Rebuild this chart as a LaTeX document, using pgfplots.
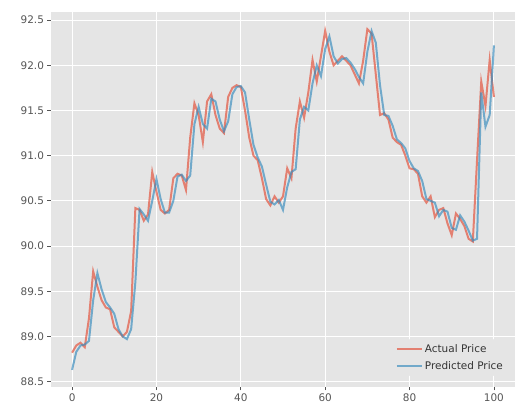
\documentclass[border=0pt]{standalone}
\usepackage{pgfplots}
\pgfplotsset{compat=1.18}
\usepackage{pgfplotstable}
\usepackage{fontspec}
\setmainfont{DejaVu Sans}
\definecolor{bgc}{HTML}{E5E5E5}
\definecolor{redc}{HTML}{E24A33}
\definecolor{bluec}{HTML}{348ABD}
\definecolor{tickc}{HTML}{555555}
\pgfplotstableread{
t v
0 88.82
1 88.90
2 88.93
3 88.88
4 89.20
5 89.72
6 89.55
7 89.40
8 89.32
9 89.30
10 89.10
11 89.05
12 89.00
13 89.05
14 89.28
15 90.42
16 90.40
17 90.28
18 90.35
19 90.82
20 90.60
21 90.40
22 90.36
23 90.40
24 90.75
25 90.80
26 90.78
27 90.62
28 91.20
29 91.58
30 91.45
31 91.15
32 91.60
33 91.68
34 91.45
35 91.30
36 91.25
37 91.65
38 91.75
39 91.78
40 91.76
41 91.50
42 91.20
43 91.00
44 90.95
45 90.75
46 90.52
47 90.45
48 90.55
49 90.48
50 90.55
51 90.86
52 90.75
53 91.30
54 91.60
55 91.42
56 91.70
57 92.06
58 91.82
59 92.10
60 92.38
61 92.15
62 92.00
63 92.05
64 92.10
65 92.05
66 92.00
67 91.90
68 91.80
69 92.05
70 92.40
71 92.35
72 91.90
73 91.45
74 91.47
75 91.40
76 91.20
77 91.15
78 91.12
79 91.00
80 90.86
81 90.85
82 90.80
83 90.55
84 90.48
85 90.55
86 90.32
87 90.40
88 90.42
89 90.25
90 90.12
91 90.36
92 90.30
93 90.22
94 90.08
95 90.05
96 90.95
97 91.82
98 91.55
99 92.06
100 91.65
}\actual
\pgfplotstableread{
t v
0 88.63
1 88.83
2 88.90
3 88.91
4 88.95
5 89.40
6 89.70
7 89.52
8 89.38
9 89.32
10 89.25
11 89.08
12 89.00
13 88.97
14 89.08
15 89.60
16 90.41
17 90.35
18 90.28
19 90.50
20 90.74
21 90.52
22 90.37
23 90.37
24 90.50
25 90.77
26 90.79
27 90.72
28 90.78
29 91.35
30 91.54
31 91.35
32 91.30
33 91.63
34 91.60
35 91.40
36 91.27
37 91.38
38 91.68
39 91.76
40 91.77
41 91.70
42 91.40
43 91.12
44 90.98
45 90.88
46 90.68
47 90.49
48 90.46
49 90.51
50 90.40
51 90.65
52 90.82
53 90.85
54 91.40
55 91.54
56 91.50
57 91.80
58 92.00
59 91.88
60 92.18
61 92.32
62 92.10
63 92.02
64 92.07
65 92.08
66 92.03
67 91.96
68 91.87
69 91.80
70 92.15
71 92.38
72 92.25
73 91.78
74 91.45
75 91.44
76 91.33
77 91.18
78 91.14
79 91.08
80 90.94
81 90.86
82 90.83
83 90.72
84 90.52
85 90.50
86 90.48
87 90.33
88 90.40
89 90.38
90 90.20
91 90.18
92 90.34
93 90.27
94 90.17
95 90.06
96 90.08
97 91.70
98 91.32
99 91.45
100 92.22
}\predicted
\begin{document}
\begin{tikzpicture}
\useasboundingbox (-51bp,-22bp) rectangle (464bp,387bp);
\begin{axis}[
  scale only axis, width=464bp, height=375bp,
  xmin=-5, xmax=105, ymin=88.44, ymax=92.59,
  axis background/.style={fill=bgc},
  axis line style={draw=none},
  grid=major, major grid style={white, line width=1bp},
  xtick={0,20,40,60,80,100},
  ytick={88.5,89.0,89.5,90.0,90.5,91.0,91.5,92.0,92.5},
  yticklabel style={/pgf/number format/.cd, fixed, fixed zerofill, precision=1},
  /pgf/number format/assume math mode=true,
  tick label style={font=\fontsize{10.5}{12}\selectfont, text=tickc},
  tick align=outside, tick pos=left, major tick length=3.5bp,
  tick style={tickc, line width=0.8bp},
  legend cell align=left,
  legend style={at={(0.985,0.03)}, anchor=south east, fill=bgc, draw=black!10,
    rounded corners=2bp, font=\fontsize{10.5}{12}\selectfont, text=black!80,
    row sep=3bp, inner sep=3bp},
  legend image code/.code={\draw[#1] (0bp,0bp) -- (25bp,0bp);},
]
\addplot[redc, opacity=0.65, line width=2bp, no markers] table[x=t, y=v] {\actual};
\addlegendentry{Actual Price}
\addplot[bluec, opacity=0.65, line width=2bp, no markers] table[x=t, y=v] {\predicted};
\addlegendentry{Predicted Price}
\end{axis}
\end{tikzpicture}
\end{document}
